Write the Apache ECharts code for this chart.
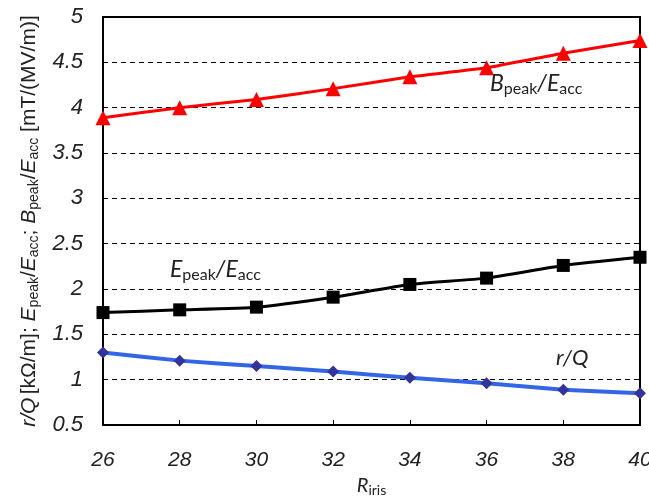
<!DOCTYPE html>
<html><head><meta charset="utf-8">
<script src="https://cdn.jsdelivr.net/npm/echarts@6/dist/echarts.min.js"></script>
<style>html,body{margin:0;padding:0;background:#fff}#c{width:649px;height:496px}</style>
</head><body><div id="c"></div>
<script>
const rIris = [26, 28, 30, 32, 34, 36, 38, 40];
const bPeak = [3.89, 4.00, 4.09, 4.21, 4.34, 4.44, 4.60, 4.74];
const ePeak = [1.74, 1.77, 1.80, 1.91, 2.05, 2.12, 2.26, 2.35];
const rOverQ = [1.30, 1.21, 1.15, 1.09, 1.02, 0.96, 0.89, 0.85];

const pair = (xs, ys) => xs.map((x, i) => [x, ys[i]]);
const chart = echarts.init(document.getElementById('c'));
const ff = 'Liberation Sans, Arial, sans-serif';
const af = 'Lato, Carlito, sans-serif';
chart.setOption({
  animation: false,
  grid: { left: 103, right: 9, top: 17, bottom: 71, show: true, borderColor: '#000', borderWidth: 2,
    containLabel: false, outerBoundsMode: 'none' },
  xAxis: {
    type: 'value', min: 26, max: 40, interval: 2,
    axisLine: { show: true, lineStyle: { color: '#000', width: 2 } },
    axisTick: { show: true, inside: true, length: 5, lineStyle: { color: '#000' } },
    splitLine: { show: false },
    axisLabel: { color: '#222', fontSize: 21, fontStyle: 'italic', fontFamily: ff, margin: 25 },
    name: '{i|R}{s|iris}', nameLocation: 'middle', nameGap: 46,
    nameTextStyle: { rich: {
      i: { fontSize: 20, fontStyle: 'italic', fontFamily: af, color: '#222' },
      s: { fontSize: 14, fontFamily: af, color: '#222', verticalAlign: 'bottom', padding: [10, 0, 0, 0] }
    } }
  },
  yAxis: {
    type: 'value', min: 0.5, max: 5, interval: 0.5,
    axisLine: { show: true, lineStyle: { color: '#000', width: 2 } },
    axisTick: { show: false },
    splitLine: { show: true, lineStyle: { color: '#000', type: [5, 4], width: 1 } },
    axisLabel: { color: '#222', fontSize: 22, fontStyle: 'italic', fontFamily: ff, margin: 20,
      formatter: v => String(Math.round(v * 10) / 10) },
    name: '{i|r/Q} {n|[kΩ/m]; }{i|E}{s|peak}{n|/}{i|E}{s|acc}{n|; }{i|B}{s|peak}{n|/}{i|E}{s|acc}{n| [mT/(MV/m)]}',
    nameLocation: 'middle', nameGap: 62, nameRotate: 90,
    nameTextStyle: { rich: {
      i: { fontSize: 21, fontStyle: 'italic', fontFamily: ff, color: '#222' },
      n: { fontSize: 21, fontFamily: ff, color: '#222' },
      s: { fontSize: 14, fontFamily: ff, color: '#222', verticalAlign: 'bottom', padding: [10, 0, 0, 0] }
    } }
  },
  series: [
    { type: 'line', data: pair(rIris, bPeak), smooth: 0.15, symbol: 'triangle', symbolSize: 15,
      lineStyle: { color: '#ff0000', width: 3 }, itemStyle: { color: '#ff0000' } },
    { type: 'line', data: pair(rIris, ePeak), smooth: 0.15, symbol: 'rect', symbolSize: 13,
      lineStyle: { color: '#000', width: 3 }, itemStyle: { color: '#000' } },
    { type: 'line', data: pair(rIris, rOverQ), smooth: 0.15, symbol: 'diamond', symbolSize: 12,
      lineStyle: { color: '#3366e6', width: 4 }, itemStyle: { color: '#333399' } }
  ],
  graphic: [
    { type: 'text', left: 490, top: 72, style: { text: '{i|B}{s|peak}{i|/E}{s|acc}', rich: {
      i: { fontSize: 23, fontStyle: 'italic', fontFamily: af, fill: '#222' },
      s: { fontSize: 16, fontFamily: af, fill: '#222', verticalAlign: 'bottom', padding: [10, 0, 0, 0] } } } },
    { type: 'text', left: 170, top: 258, style: { text: '{i|E}{s|peak}{i|/E}{s|acc}', rich: {
      i: { fontSize: 23, fontStyle: 'italic', fontFamily: af, fill: '#222' },
      s: { fontSize: 16, fontFamily: af, fill: '#222', verticalAlign: 'bottom', padding: [10, 0, 0, 0] } } } },
    { type: 'text', left: 556, top: 347, style: { text: 'r/Q', fontSize: 22, fontStyle: 'italic', fontFamily: af, fill: '#222' } }
  ]
});
</script></body></html>
